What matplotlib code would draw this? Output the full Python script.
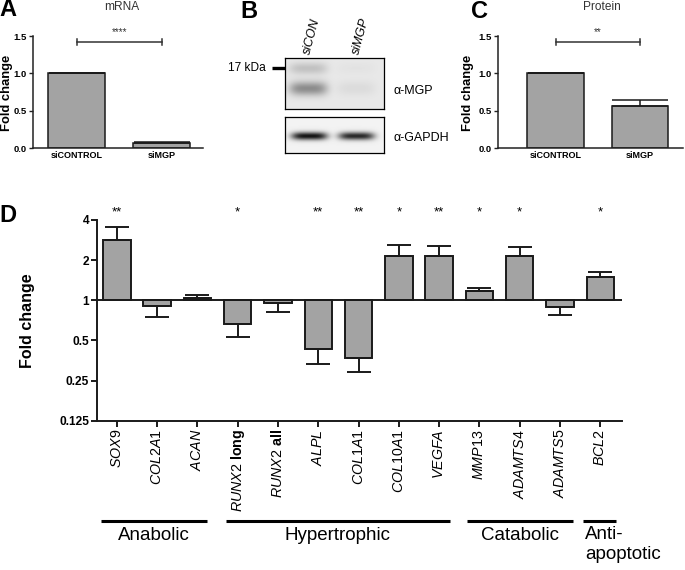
import matplotlib
matplotlib.use('Agg')
import matplotlib.pyplot as plt
import numpy as np
from matplotlib.transforms import blended_transform_factory
from matplotlib.lines import Line2D

plt.rcParams['font.family'] = ['Liberation Sans', 'DejaVu Sans']
plt.rcParams['mathtext.fontset'] = 'custom'
plt.rcParams['mathtext.rm'] = 'Liberation Sans'
plt.rcParams['mathtext.it'] = 'Liberation Sans:italic'
plt.rcParams['mathtext.bf'] = 'Liberation Sans:bold'

# ---------------- data ----------------
ac_categories = ['siCONTROL', 'siMGP']
mrna_values = [1.0, 0.07]
mrna_err = [0.0, 0.02]
mrna_sig = '****'
protein_values = [1.0, 0.565]
protein_err = [0.0, 0.075]
protein_sig = '**'
ac_yticks = [0.0, 0.5, 1.0, 1.5]

genes = [r'$\it{SOX9}$', r'$\it{COL2A1}$', r'$\it{ACAN}$', r'$\it{RUNX2}$ $\bf{long}$',
         r'$\it{RUNX2}$ $\bf{all}$', r'$\it{ALPL}$', r'$\it{COL1A1}$', r'$\it{COL10A1}$',
         r'$\it{VEGFA}$', r'$\it{MMP13}$', r'$\it{ADAMTS4}$', r'$\it{ADAMTS5}$', r'$\it{BCL2}$']
fold_change = [2.83, 0.91, 1.04, 0.66, 0.96, 0.43, 0.37, 2.15, 2.15, 1.17, 2.15, 0.89, 1.50]
fold_err = [0.73, 0.16, 0.05, 0.13, 0.14, 0.10, 0.08, 0.45, 0.40, 0.06, 0.37, 0.11, 0.13]
stars = ['**', '', '', '*', '', '**', '**', '*', '**', '*', '*', '', '*']
d_yticks = [0.125, 0.25, 0.5, 1, 2, 4]
d_yticklabels = ['0.125', '0.25', '0.5', '1', '2', '4']
groups = ['Anabolic', 'Hypertrophic', 'Catabolic', 'Anti-\napoptotic']
group_spans = [(-0.4, 2.23), (2.71, 8.26), (8.7, 11.33), (11.58, 12.4)]

# blot band intensities (lane: siCON, siMGP)
mgp_upper_band = [0.15, 0.02]
mgp_lower_band = [0.36, 0.05]
gapdh_band = [0.88, 0.80]

W, H = 685, 570
fig = plt.figure(figsize=(6.85, 5.7), dpi=100)


def ax_px(x0, y0, x1, y1):
    return fig.add_axes([x0 / W, 1 - y1 / H, (x1 - x0) / W, (y1 - y0) / H])


def fx(px):
    return px / W


def fy(py):
    return 1 - py / H


BAR = '#a3a3a3'
EDGE = '#1a1a1a'


def small_bar_panel(ax, vals, errs, sig, xlim, label_x):
    x = np.arange(len(vals))
    ax.bar(x, vals, width=0.67, color=BAR, edgecolor=EDGE, linewidth=1.1, zorder=2)
    ax.errorbar(x, vals, yerr=[np.zeros(len(errs)), errs], fmt='none', ecolor=EDGE,
                elinewidth=1.1, capsize=20, capthick=1.1, zorder=3)
    ax.set_xlim(*xlim)
    ax.set_ylim(0, 1.5)
    for s in ['top', 'right']:
        ax.spines[s].set_visible(False)
    for s in ['left', 'bottom']:
        ax.spines[s].set_linewidth(1.1)
        ax.spines[s].set_color('#222')
    ax.set_yticks(ac_yticks)
    ax.set_yticklabels(['%.1f' % v for v in ac_yticks], fontsize=6.8, fontweight='bold')
    ax.set_xticks(x)
    ax.set_xticklabels(ac_categories, fontsize=6.5, fontweight='bold')
    ax.tick_params(axis='y', length=3, width=1.0, pad=1.5, color='#222')
    ax.tick_params(axis='x', length=0, pad=2)
    ax.set_ylabel('Fold change', fontsize=9.4, fontweight='bold')
    ax.yaxis.set_label_coords(label_x, 0.49)
    yb = 1.415
    ax.plot([0, 1], [yb, yb], color='#333', lw=1.1, clip_on=False)
    ax.plot([0, 0], [yb - 0.04, yb + 0.04], color='#333', lw=1.1, clip_on=False)
    ax.plot([1, 1], [yb - 0.04, yb + 0.04], color='#333', lw=1.1, clip_on=False)
    ax.text(0.5, 1.55, sig, ha='center', va='center', fontsize=7, color='#333', clip_on=False)


# ---------------- Panel A ----------------
axA = ax_px(33, 36, 203, 148.3)
small_bar_panel(axA, mrna_values, mrna_err, mrna_sig, (-0.514, 1.486), (13.5 - 33) / 170)
fig.text(fx(121.7), fy(7), 'mRNA', fontsize=8.6, color='#333', ha='center', va='center')
fig.text(fx(8), fy(10), 'A', fontsize=17, fontweight='bold', ha='center', va='center')

# ---------------- Panel C ----------------
axC = ax_px(498, 36, 683, 148.3)
small_bar_panel(axC, protein_values, protein_err, protein_sig, (-0.684, 1.51), (474 - 498) / 185)
fig.text(fx(601.7), fy(7), 'Protein', fontsize=8.6, color='#333', ha='center', va='center')
fig.text(fx(479), fy(11), 'C', fontsize=17, fontweight='bold', ha='center', va='center')

# ---------------- Panel B (blot) ----------------
fig.text(fx(249), fy(12), 'B', fontsize=17, fontweight='bold', ha='center', va='center')

lane_x = [23, 71]


def blot(h, w, bands, sx, base):
    yy, xx = np.mgrid[0:h, 0:w]
    img = np.full((h, w), base)
    for (amp, ycen, lx, sy) in bands:
        img -= amp * np.exp(-((xx - lx) / sx) ** 4) * np.exp(-((yy - ycen) / sy) ** 2)
    return img


up_h, up_w = 51, 99
bands_up = []
for li, lx in enumerate(lane_x):
    bands_up.append((mgp_upper_band[li], 10, lx, 6.0))
    bands_up.append((mgp_lower_band[li], 30, lx, 7.0))
img_up = blot(up_h, up_w, bands_up, 19, 0.91)
axB1 = ax_px(285, 58.3, 384, 109.3)
axB1.imshow(img_up, cmap='gray', vmin=0, vmax=1, aspect='auto', interpolation='bilinear')
axB1.set_xticks([]); axB1.set_yticks([])
for s in axB1.spines.values():
    s.set_linewidth(0.9)

lo_h, lo_w = 35, 99
bands_lo = [(gapdh_band[li], 18, lx + (1 if li == 0 else 0), 3.8) for li, lx in enumerate(lane_x)]
img_lo = blot(lo_h, lo_w, bands_lo, 18, 0.95)
axB2 = ax_px(285, 117.3, 384, 152.5)
axB2.imshow(img_lo, cmap='gray', vmin=0, vmax=1, aspect='auto', interpolation='bilinear')
axB2.set_xticks([]); axB2.set_yticks([])
for s in axB2.spines.values():
    s.set_linewidth(0.9)

fig.text(fx(266), fy(68.3), '17 kDa', fontsize=8.6, ha='right', va='center')
fig.add_artist(Line2D([fx(271.5), fx(285)], [fy(68.3), fy(68.3)], color='k', lw=2.4,
                      transform=fig.transFigure, solid_capstyle='butt'))
fig.text(fx(394), fy(91), 'α-MGP', fontsize=9, ha='left', va='center')
fig.text(fx(394), fy(138), 'α-GAPDH', fontsize=9, ha='left', va='center')
fig.text(fx(307), fy(54), 'siCON', fontsize=9, style='italic', rotation=75,
         rotation_mode='anchor', ha='left', va='center')
fig.text(fx(356), fy(54), 'siMGP', fontsize=9, style='italic', rotation=75,
         rotation_mode='anchor', ha='left', va='center')

# ---------------- Panel D ----------------
axD = ax_px(96.7, 220, 622, 420.7)
axD.set_yscale('log', base=2)
fc = np.array(fold_change)
fe = np.array(fold_err)
xd = np.arange(len(fc))
axD.bar(xd, fc - 1, bottom=1, width=0.68, color=BAR, edgecolor=EDGE, linewidth=1.4, zorder=2)
lower = np.where(fc < 1, fe, 0)
upper = np.where(fc >= 1, fe, 0)
axD.errorbar(xd, fc, yerr=[lower, upper], fmt='none', ecolor=EDGE, elinewidth=1.4,
             capsize=8.6, capthick=1.4, zorder=3)
axD.axhline(1, color=EDGE, lw=1.4, zorder=4)
axD.set_ylim(0.125, 4)
axD.set_xlim(-0.5, 12.54)
for s in ['top', 'right']:
    axD.spines[s].set_visible(False)
for s in ['left', 'bottom']:
    axD.spines[s].set_linewidth(1.4)
    axD.spines[s].set_color(EDGE)
axD.set_yticks(d_yticks)
axD.set_yticklabels(d_yticklabels, fontsize=8.6, fontweight='bold')
axD.yaxis.set_minor_locator(matplotlib.ticker.NullLocator())
axD.set_xticks(xd)
axD.set_xticklabels(genes, rotation=90, fontsize=10.3, ha='center', va='top')
axD.tick_params(axis='both', length=4, width=1.4, color=EDGE)
axD.tick_params(axis='y', pad=1.5)
axD.tick_params(axis='x', pad=2)
axD.set_ylabel('Fold change', fontsize=11.5, fontweight='bold')
axD.yaxis.set_label_coords((35 - 96.7) / 525.3, 0.5)
for i, s in enumerate(stars):
    if s:
        axD.text(i, 4.55, s, ha='center', va='center', fontsize=9.5, clip_on=False)
fig.text(fx(8), fy(215), 'D', fontsize=17, fontweight='bold', ha='center', va='center')

trans = blended_transform_factory(axD.transData, fig.transFigure)
for name, (a, b) in zip(groups, group_spans):
    axD.plot([a, b], [fy(520.7), fy(520.7)], transform=trans, color='k', lw=2.2,
             clip_on=False, solid_capstyle='butt')
    if name.startswith('Anti'):
        axD.text(a + 0.05, fy(526), name, transform=trans, ha='left', va='top',
                 fontsize=13.5, linespacing=1.25)
    else:
        axD.text((a + b) / 2, fy(535), name, transform=trans, ha='center', va='center',
                 fontsize=13.5)

fig.savefig('out.png', dpi=100)
